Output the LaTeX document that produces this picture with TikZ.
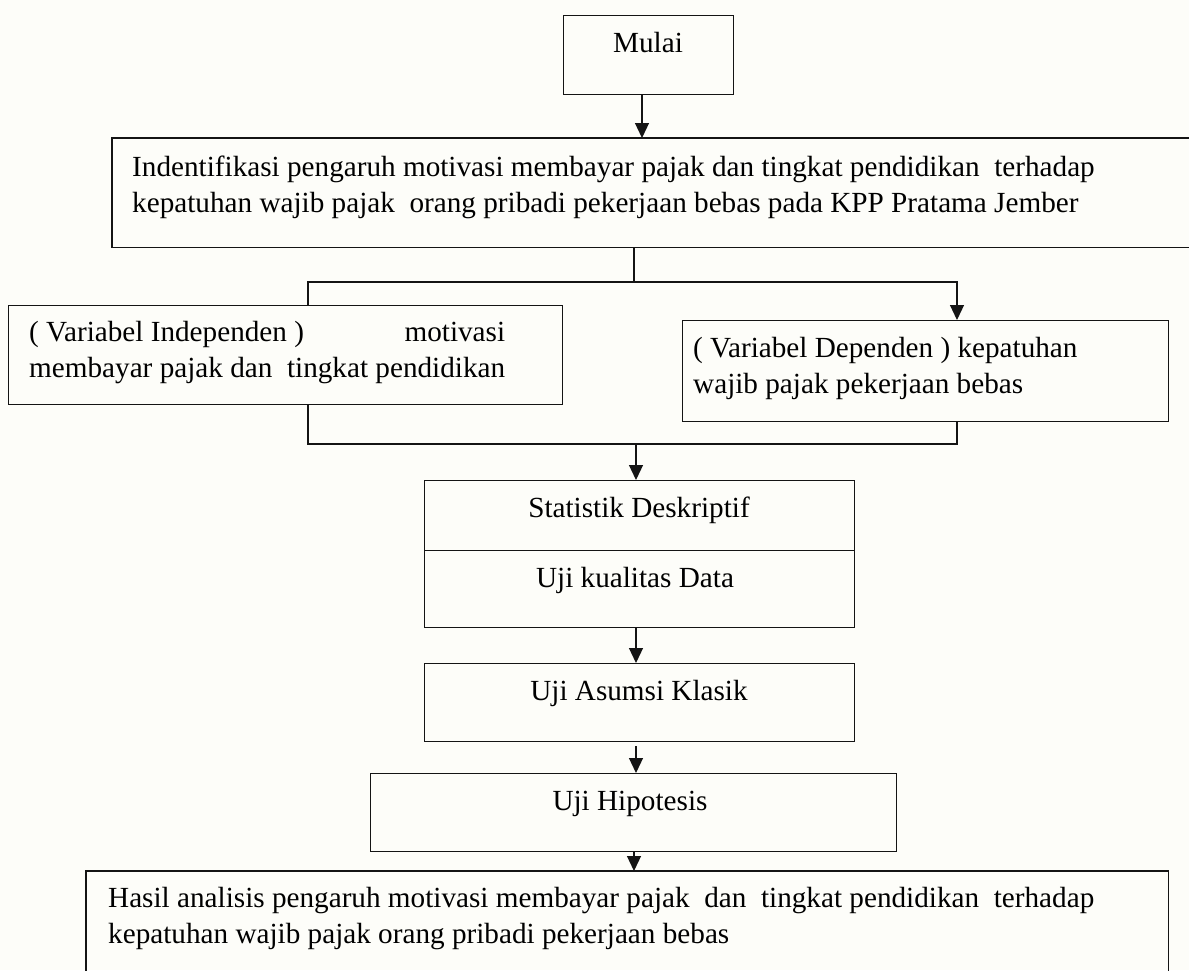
\documentclass[tikz,border=0pt]{standalone}
\usepackage{fontspec}
\setmainfont{Liberation Serif}
\usetikzlibrary{arrows.meta}
\definecolor{bgc}{RGB}{253,253,249}
\definecolor{ln}{RGB}{20,20,20}
\newlength\indepw
\newcommand{\bigfont}{\fontsize{29.2}{36}\selectfont}
\begin{document}
\settowidth{\indepw}{\bigfont membayar pajak dan\ \ tingkat pendidikan}%
\begin{tikzpicture}[x=1pt,y=-1pt,
  box/.style={draw=ln,line width=1.2pt,inner sep=0pt,anchor=north west},
  openbox/.style={draw=none,inner sep=0pt,anchor=north west},
  txt/.style={font=\bigfont,inner sep=0pt,anchor=north west,align=left,text=black},
  ctxt/.style={font=\bigfont,inner sep=0pt,anchor=base,text=black},
  conn/.style={draw=ln,line width=1.2pt},
  arr/.style={conn,-{Triangle[length=15pt,width=14pt]}}]
\useasboundingbox (0,0) rectangle (1189,970);
\fill[bgc] (0,0) rectangle (1189,970);

% boxes
\node[box,minimum width=170pt,minimum height=79pt] (mulai) at (563,15) {};
\node[openbox,minimum width=1080pt,minimum height=109pt] (ident) at (112,138) {};
\draw[conn] (ident.north east) -- (ident.north west) -- (ident.south west) -- (ident.south east);
\node[box,minimum width=554pt,minimum height=99pt] (indep) at (8,305) {};
\node[box,minimum width=486pt,minimum height=101pt] (dep) at (682,320) {};
\node[box,minimum width=430pt,minimum height=70pt] (stat1) at (424,480) {};
\node[box,minimum width=430pt,minimum height=77pt] (stat2) at (424,550) {};
\node[box,minimum width=430pt,minimum height=78pt] (asumsi) at (424,663) {};
\node[box,minimum width=526pt,minimum height=78pt] (hipo) at (370,773) {};
\node[openbox,minimum width=1082pt,minimum height=110pt] (result) at (86,871) {};
\draw[conn] (result.south west) -- (result.north west) -- (result.north east) -- (result.south east);

% helper coordinates
\coordinate (xa) at (642,0);
\coordinate (split) at (634,282);
\coordinate (xl) at (308,0);
\coordinate (xr) at (957,0);
\coordinate (merge) at (636,444);
\coordinate (xc) at (636,0);
\coordinate (xd) at (634,0);

% connectors
\draw[arr] (mulai.south -| xa) -- (ident.north -| xa);
\draw[conn] (ident.south -| split) -- (split);
\draw[arr] (indep.north -| xl) |- (split) -| (dep.north -| xr);
\draw[conn] (indep.south -| xl) |- (merge) -| (dep.south -| xr);
\draw[arr] (merge) -- (stat1.north -| merge);
\draw[arr] (stat2.south -| xc) -- (asumsi.north -| xc);
\draw[arr,shorten <=4pt] (asumsi.south -| xc) -- (hipo.north -| xc);
\draw[arr] (hipo.south -| xd) -- (result.north -| xd);

% texts (multi-line: top = first baseline - 25.2)
\node[ctxt] (tmulai) at (648,52) {Mulai};
\node[txt] (tident) at (132,150.8) {\strut Indentifikasi pengaruh motivasi membayar pajak dan tingkat pendidikan\ \ terhadap\\kepatuhan wajib pajak\ \ orang pribadi pekerjaan bebas pada KPP Pratama Jember};
\node[txt] (tindep) at (29,315.8) {\strut\makebox[\indepw][l]{( Variabel Independen )\hfill motivasi}\\membayar pajak dan\ \ tingkat pendidikan};
\node[txt] (tdep) at (693,331.8) {\strut( Variabel Dependen ) kepatuhan\\wajib pajak pekerjaan bebas};
\node[ctxt] (tstat) at (639,517) {Statistik Deskriptif};
\node[ctxt] (tuji) at (635,587) {Uji kualitas Data};
\node[ctxt] (tasumsi) at (639,700) {Uji Asumsi Klasik};
\node[ctxt] (thipo) at (630,810) {Uji Hipotesis};
\node[txt] (tres) at (108,881.8) {\strut Hasil analisis pengaruh motivasi membayar pajak\ \ dan\ \ tingkat pendidikan\ \ terhadap\\kepatuhan wajib pajak orang pribadi pekerjaan bebas};
\end{tikzpicture}
\end{document}
